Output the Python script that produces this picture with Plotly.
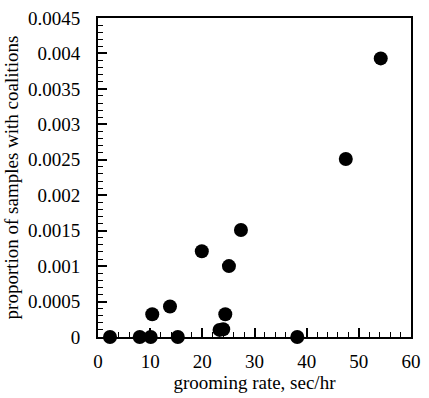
import plotly.graph_objects as go

grooming_rate = [2.3, 8.0, 10.1, 15.3, 38.2, 10.4, 13.8, 24.4, 23.3, 24.0, 19.9, 25.1, 27.4, 47.5, 54.2]
proportion = [0, 0, 0, 0, 0, 0.00032, 0.00043, 0.00032, 0.0001, 0.00011, 0.00121, 0.001, 0.00151, 0.00251, 0.00393]

x_ticks = [0, 10, 20, 30, 40, 50, 60]
y_ticks = [0, 0.0005, 0.001, 0.0015, 0.002, 0.0025, 0.003, 0.0035, 0.004, 0.0045]
y_tick_labels = ["0", "0.0005", "0.001", "0.0015", "0.002", "0.0025", "0.003", "0.0035", "0.004", "0.0045"]

font = dict(family="Liberation Serif", size=19, color="black")

fig = go.Figure()
fig.add_trace(go.Scatter(
    x=grooming_rate, y=proportion, mode="markers",
    marker=dict(color="black", size=14, line=dict(width=0)),
    cliponaxis=False, showlegend=False,
))

fig.update_layout(
    width=429, height=398,
    margin=dict(l=98, r=8, t=15, b=61),
    paper_bgcolor="white", plot_bgcolor="white",
    font=font,
    xaxis=dict(
        range=[0, 60], tickvals=x_ticks, ticktext=[str(v) for v in x_ticks],
        ticks="inside", ticklen=9, tickwidth=1.5, tickcolor="black",
        minor=dict(ticks="inside", dtick=2, ticklen=5, tickwidth=1, tickcolor="black"),
        showline=True, linecolor="black", linewidth=2, mirror=True,
        showgrid=False, zeroline=False,
        ticklabelstandoff=6,
        title=dict(text="grooming rate, sec/hr", standoff=2, font=font),
        tickfont=font,
    ),
    yaxis=dict(
        range=[0, 0.0045], tickvals=y_ticks, ticktext=y_tick_labels,
        ticks="inside", ticklen=9, tickwidth=1.5, tickcolor="black",
        minor=dict(ticks="inside", dtick=0.0001, ticklen=5, tickwidth=1, tickcolor="black"),
        showline=True, linecolor="black", linewidth=2, mirror=True,
        showgrid=False, zeroline=False,
        ticklabelstandoff=12,
        title=dict(text="proportion of samples with coalitions", standoff=4, font=font),
        tickfont=font,
    ),
)

fig.write_html("out.html", config={"displayModeBar": False},
               post_script="document.body.style.margin='0';")
